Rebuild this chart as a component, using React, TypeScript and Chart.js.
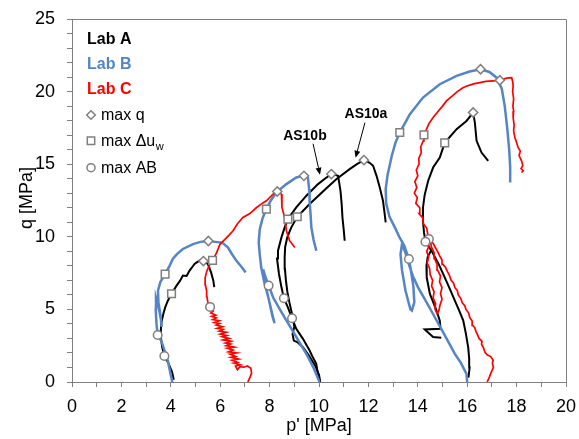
import React, { useEffect, useRef } from "react";
import { Chart, registerables } from "chart.js";

Chart.register(...registerables);

type Pt = [number, number];

// ---- Stress paths, [p' (MPa), q (MPa)] ----
// Lab A
const labA_p4: Pt[] = [[4.12,0.15],[4.05,0.7],[3.9,1.3],[3.74,1.79],[3.65,2.4],[3.6,3.05],[3.6,3.7],[3.63,4.2],[3.7,4.7],[3.77,5.12],[3.88,5.6],[4.03,6.08],[4.22,6.6],[4.37,6.96],[4.49,7.33],[4.64,7.3],[4.76,7.67],[4.85,7.87],[4.96,8.13],[5.16,8.36],[5.32,8.33],[5.5,8.13],[5.63,7.55],[5.72,7.0],[5.76,6.54]];
const labA_AS10a: Pt[] = [[10.05,0],[10.0,0.5],[9.85,1.1],[9.6,1.8],[9.35,2.4],[9.12,2.75],[8.98,2.85],[8.93,3.3],[9.0,3.8],[8.96,4.3],[8.88,4.9],[8.8,5.5],[8.72,6.2],[8.66,7.0],[8.62,7.8],[8.61,8.6],[8.63,9.3],[8.72,10.0],[8.88,10.65],[9.12,11.38],[9.62,12.26],[10.3,13.35],[10.7,13.97],[11.24,14.66],[11.55,15.02],[11.82,15.28],[12.05,15.1],[12.19,14.89],[12.33,14.2],[12.46,13.4],[12.59,12.48],[12.65,11.7],[12.7,10.99]];
const labA_AS10b: Pt[] = [[10.03,0],[9.95,0.6],[9.89,1.25],[9.75,1.7],[9.62,2.17],[9.35,2.97],[9.08,3.66],[8.91,4.39],[8.74,5.14],[8.58,5.77],[8.48,6.52],[8.38,7.44],[8.3,8.5],[8.34,9.04],[8.48,9.96],[8.6,10.6],[8.74,11.22],[9.08,12.02],[9.49,12.83],[9.96,13.63],[10.25,14.02],[10.5,14.32],[10.68,14.25],[10.77,14.2],[10.82,13.7],[10.87,13.17],[10.92,12.2],[10.95,11.33],[11.0,10.5],[11.04,9.73]];
const labA_p16: Pt[] = [[16.05,0.3],[16.1,1.0],[16.08,1.6],[16.04,2.39],[15.95,3.3],[15.84,4.23],[15.68,4.9],[15.5,5.6],[15.3,6.4],[15.09,7.21],[14.85,8.1],[14.6,8.9],[14.42,9.4],[14.31,9.66],[14.25,10.3],[14.21,11.1],[14.21,12.02],[14.28,12.9],[14.42,13.86],[14.62,14.77],[14.89,15.46],[15.09,16.47],[15.57,17.41],[15.97,17.98],[16.24,18.56],[16.31,17.87],[16.38,16.61],[16.58,15.8],[16.85,15.23]];
const labA_p16cycle: Pt[] = [[14.55,9.1],[14.4,8.6],[14.35,8.0],[14.36,7.21],[14.49,6.07],[14.76,4.92],[14.89,4.23],[14.92,3.66],[14.28,3.62],[14.62,3.1],[14.95,3.05]];

// Lab B
const labB_p4: Pt[] = [[4.06,0],[3.97,0.7],[3.88,1.48],[3.72,2.3],[3.61,2.85],[3.47,3.24],[3.42,4.0],[3.39,5.0],[3.4,5.8],[3.5,5.2],[3.6,4.3],[3.63,3.8],[3.58,4.6],[3.5,5.5],[3.48,6.29],[3.58,6.9],[3.77,7.43],[3.95,8.0],[4.08,8.47],[4.24,8.79],[4.49,9.16],[4.9,9.5],[5.2,9.65],[5.52,9.71],[5.8,9.65],[6.08,9.6],[6.31,9.27],[6.48,8.8],[6.65,8.36],[6.85,7.95],[7.03,7.55]];
const labB_p10: Pt[] = [[10.02,0],[9.8,0.9],[9.5,1.9],[9.15,2.9],[8.8,3.9],[8.45,4.9],[8.15,5.8],[7.96,6.64],[7.82,7.3],[7.74,7.75],[7.8,6.9],[7.98,5.6],[8.12,4.5],[8.2,4.05],[8.12,4.6],[7.95,5.8],[7.78,6.9],[7.66,7.9],[7.6,8.8],[7.56,9.6],[7.6,10.5],[7.72,11.3],[7.87,11.91],[8.05,12.5],[8.27,13.05],[8.68,13.63],[9.08,14.09],[9.39,14.2],[9.55,14.09],[9.6,13.3],[9.62,12.48],[9.66,11.5],[9.69,10.65],[9.78,9.8],[9.89,9.04]];
const labB_p16: Pt[] = [[16.0,0],[15.97,0.56],[15.75,1.3],[15.5,1.94],[15.1,3.2],[14.69,4.46],[14.35,5.5],[14.01,6.52],[13.8,7.3],[13.64,8.1],[13.5,8.9],[13.36,9.5],[13.3,8.8],[13.36,7.7],[13.5,6.3],[13.7,5.0],[13.76,4.92],[13.86,5.5],[13.82,6.6],[13.72,7.7],[13.64,8.47],[13.45,9.4],[13.25,10.0],[13.07,10.65],[12.85,11.4],[12.72,12.3],[12.7,13.3],[12.78,14.3],[12.95,15.6],[13.1,16.5],[13.27,17.18],[13.68,18.45],[14.21,19.59],[14.89,20.51],[15.57,21.08],[16.1,21.38],[16.54,21.54],[16.9,21.35],[17.19,20.96],[17.4,20.2],[17.52,19.0],[17.62,17.5],[17.7,16.0],[17.74,14.8],[17.74,13.74]];

// Lab C (noisy records)
const labC_p7: Pt[] = [[7.12,0],[7.2,0.3],[7.27,0.6],[7.24,0.95],[7.1,1.1],[6.95,1.02],[6.8,1.05],[6.7,0.85],[6.62,1.1],[6.82,1.18],[6.55,1.3],[6.7,1.36],[6.48,1.5],[6.74,1.58],[6.44,1.7],[6.62,1.76],[6.4,1.92],[6.66,2.0],[6.34,2.08],[6.52,2.2],[6.28,2.32],[6.56,2.4],[6.24,2.5],[6.42,2.62],[6.22,2.68],[6.44,2.8],[6.12,2.9],[6.36,3.0],[6.08,3.12],[6.26,3.2],[6.0,3.3],[6.24,3.42],[5.96,3.5],[6.12,3.62],[5.88,3.7],[6.1,3.8],[5.84,3.92],[5.98,4.02],[5.76,4.1],[5.96,4.22],[5.7,4.3],[5.84,4.42],[5.66,4.52],[5.82,4.6],[5.62,4.75],[5.72,4.9],[5.59,5.17],[5.5,5.5],[5.46,5.9],[5.45,6.27],[5.4,6.7],[5.39,7.18],[5.45,7.6],[5.55,8.0],[5.69,8.38],[5.85,8.9],[5.99,9.48],[6.18,9.8],[6.35,10.1],[6.52,10.42],[6.7,10.9],[6.92,11.33],[7.2,11.6],[7.46,12.0],[7.7,12.3],[7.87,12.48],[8.14,12.94],[8.31,13.12],[8.48,12.94],[8.5,12.02],[8.61,11.33],[8.68,10.42],[8.81,9.73],[9.02,9.27]];
const labC_p17: Pt[] = [[16.81,0],[16.9,0.35],[16.98,0.7],[17.06,1.0],[17.02,1.3],[17.05,1.5],[16.95,1.75],[16.82,1.85],[16.72,2.05],[16.66,2.35],[16.58,2.6],[16.6,2.8],[16.48,3.0],[16.42,3.25],[16.35,3.5],[16.3,3.75],[16.22,3.9],[16.2,4.2],[16.1,4.45],[16.06,4.75],[15.95,5.0],[15.9,5.25],[15.8,5.45],[15.74,5.75],[15.64,6.0],[15.6,6.3],[15.5,6.5],[15.45,6.8],[15.35,7.0],[15.28,7.35],[15.2,7.6],[15.12,7.9],[15.02,8.1],[14.98,8.4],[14.88,8.7],[14.8,9.0],[14.7,9.3],[14.62,9.55],[14.45,9.85],[14.42,9.6],[14.45,9.3],[14.36,9.0],[14.44,8.6],[14.38,8.2],[14.48,7.8],[14.5,7.4],[14.6,7.0],[14.56,6.6],[14.66,6.2],[14.62,5.8],[14.72,5.4],[14.7,5.0],[14.78,4.7],[14.85,4.9],[14.9,5.3],[14.98,5.7],[14.92,6.1],[14.98,6.5],[14.88,6.9],[14.92,7.3],[14.8,7.7],[14.78,8.1],[14.68,8.5],[14.66,8.9],[14.55,9.3],[14.5,9.8],[14.4,10.2],[14.36,10.6],[14.22,10.9],[14.2,11.3],[14.05,11.6],[14.08,12.0],[13.92,12.3],[13.98,12.7],[13.86,13.0],[13.96,13.4],[13.88,13.8],[14.0,14.2],[13.94,14.6],[14.05,15.0],[14.04,15.4],[14.14,15.8],[14.12,16.2],[14.22,16.6],[14.25,17.02],[14.35,17.4],[14.45,17.8],[14.62,18.21],[14.8,18.6],[15.0,19.0],[15.16,19.36],[15.4,19.7],[15.6,20.0],[15.84,20.28],[16.1,20.45],[16.3,20.55],[16.51,20.62],[16.75,20.7],[17.05,20.74],[17.32,20.78],[17.5,20.88],[17.65,20.95],[17.8,20.96],[17.84,20.7],[17.86,20.39],[17.84,20.0],[17.88,19.5],[17.85,19.0],[17.88,18.67],[17.86,18.2],[17.9,17.7],[17.88,17.3],[17.93,16.84],[18.0,16.5],[18.06,16.15],[18.15,15.9],[18.1,15.6],[18.2,15.23],[18.25,14.9],[18.18,14.7],[18.27,14.55],[18.2,14.43]];

// Characteristic points
const maxQPoints: Pt[] = [[5.32,8.33],[5.52,9.71],[8.31,13.12],[10.5,14.32],[11.82,15.28],[9.39,14.2],[16.24,18.56],[16.54,21.54],[17.32,20.78]];
const maxDuPoints: Pt[] = [[4.03,6.08],[3.77,7.43],[5.69,8.38],[8.74,11.22],[9.12,11.38],[7.87,11.91],[15.09,16.47],[13.27,17.18],[14.25,17.02]];
const maxABPoints: Pt[] = [[3.74,1.79],[3.47,3.24],[5.59,5.17],[8.58,5.77],[8.91,4.39],[7.96,6.64],[14.45,9.85],[14.31,9.66],[13.64,8.47]];

// Callouts: label anchor, arrow tail, arrow head (data units)
const callouts = [
  { text: "AS10a", label: [11.9, 18.48] as Pt, tail: [11.86, 17.86] as Pt, head: [11.48, 15.45] as Pt },
  { text: "AS10b", label: [9.43, 16.96] as Pt, tail: [9.76, 16.41] as Pt, head: [10.04, 14.28] as Pt },
];

const FONT = '"Liberation Sans", Arial, Helvetica, sans-serif';
const BLACK = "#000000";
const BLUE = "#5585C6";
const RED = "#FF0000";
const AXIS = "#808080";
const MARK = "#7F7F7F";

const toXY = (pts: Pt[]) => pts.map(([x, y]) => ({ x, y }));

function line(pts: Pt[], color: string, width: number) {
  return {
    data: toXY(pts),
    showLine: true,
    borderColor: color,
    backgroundColor: color,
    borderWidth: width,
    pointRadius: 0,
    pointHoverRadius: 0,
    tension: 0,
    fill: false,
    order: 2,
  };
}

function markers(pts: Pt[], style: string, radius: number) {
  return {
    data: toXY(pts),
    showLine: false,
    pointStyle: style,
    pointRadius: radius,
    pointHoverRadius: radius,
    pointBorderColor: MARK,
    pointBackgroundColor: "#FFFFFF",
    pointBorderWidth: 1.5,
    order: 0,
  };
}

const decor = {
  id: "decor",
  afterDraw(chart: any) {
    const { ctx, chartArea: a, scales } = chart;
    const xs = scales.x;
    const ys = scales.y;
    const px = (p: Pt) => [xs.getPixelForValue(p[0]), ys.getPixelForValue(p[1])];
    ctx.save();

    // top and right frame lines
    ctx.strokeStyle = AXIS;
    ctx.lineWidth = 1;
    ctx.beginPath();
    ctx.moveTo(a.left, Math.round(a.top) + 0.5);
    ctx.lineTo(Math.round(a.right) + 0.5, Math.round(a.top) + 0.5);
    ctx.lineTo(Math.round(a.right) + 0.5, a.bottom);
    ctx.stroke();

    // axis titles
    ctx.fillStyle = "#000";
    ctx.font = `18px ${FONT}`;
    ctx.textAlign = "center";
    ctx.textBaseline = "middle";
    ctx.fillText("p' [MPa]", (a.left + a.right) / 2, 426);
    ctx.save();
    ctx.translate(27.5, 198);
    ctx.rotate(-Math.PI / 2);
    ctx.fillText("q [MPa]", 0, 0);
    ctx.restore();

    // callouts
    ctx.font = `bold 14px ${FONT}`;
    for (const c of callouts) {
      const [lx, ly] = px(c.label);
      ctx.fillStyle = "#000";
      ctx.textAlign = "center";
      ctx.textBaseline = "middle";
      ctx.fillText(c.text, lx, ly);
      const [tx, ty] = px(c.tail);
      const [hx, hy] = px(c.head);
      const ang = Math.atan2(hy - ty, hx - tx);
      const L = 7, W = 3;
      const bx = hx - L * Math.cos(ang), by = hy - L * Math.sin(ang);
      ctx.strokeStyle = "#000";
      ctx.lineWidth = 1;
      ctx.beginPath();
      ctx.moveTo(tx, ty);
      ctx.lineTo(bx, by);
      ctx.stroke();
      ctx.beginPath();
      ctx.moveTo(hx, hy);
      ctx.lineTo(bx + W * Math.sin(ang), by - W * Math.cos(ang));
      ctx.lineTo(bx - W * Math.sin(ang), by + W * Math.cos(ang));
      ctx.closePath();
      ctx.fill();
    }

    // legend
    ctx.textAlign = "left";
    ctx.textBaseline = "alphabetic";
    ctx.font = `bold 16px ${FONT}`;
    ctx.fillStyle = BLACK;
    ctx.fillText("Lab A", 87, 43.5);
    ctx.fillStyle = BLUE;
    ctx.fillText("Lab B", 87, 68.5);
    ctx.fillStyle = RED;
    ctx.fillText("Lab C", 87, 93.5);

    ctx.strokeStyle = MARK;
    ctx.fillStyle = "#fff";
    ctx.lineWidth = 1.5;
    const mx = 91;
    // diamond
    ctx.beginPath();
    ctx.moveTo(mx - 4.3, 115);
    ctx.lineTo(mx, 110.7);
    ctx.lineTo(mx + 4.3, 115);
    ctx.lineTo(mx, 119.3);
    ctx.closePath();
    ctx.fill();
    ctx.stroke();
    // square
    ctx.beginPath();
    ctx.rect(mx - 3.7, 140.7 - 3.7, 7.4, 7.4);
    ctx.fill();
    ctx.stroke();
    // circle
    ctx.beginPath();
    ctx.arc(mx, 167.7, 4, 0, Math.PI * 2);
    ctx.fill();
    ctx.stroke();

    ctx.fillStyle = "#000";
    ctx.font = `16px ${FONT}`;
    ctx.fillText("max q", 101, 120);
    ctx.fillText("max \u0394u", 101, 146);
    const w = ctx.measureText("max \u0394u").width;
    ctx.font = `11px ${FONT}`;
    ctx.fillText("w", 101 + w + 0.5, 149.5);
    ctx.font = `16px ${FONT}`;
    ctx.fillText("max AB", 101, 173);

    ctx.restore();
  },
};

export default function App() {
  const ref = useRef<HTMLCanvasElement | null>(null);

  useEffect(() => {
    if (!ref.current) return;
    const tickFont = { family: FONT, size: 18 };
    const chart = new Chart(ref.current, {
      type: "scatter",
      data: {
        datasets: [
          markers(maxQPoints, "rectRot", 4.6),
          markers(maxDuPoints, "rect", 5.4),
          markers(maxABPoints, "circle", 4.3),
          line(labC_p7, RED, 1.7),
          line(labC_p17, RED, 1.7),
          line(labB_p4, BLUE, 2.5),
          line(labB_p10, BLUE, 2.5),
          line(labB_p16, BLUE, 2.5),
          line(labA_p4, BLACK, 2),
          line(labA_AS10a, BLACK, 2),
          line(labA_AS10b, BLACK, 2),
          line(labA_p16, BLACK, 2),
          line(labA_p16cycle, BLACK, 2),
        ] as any,
      },
      options: {
        responsive: false,
        animation: false,
        devicePixelRatio: 1,
        events: [],
        layout: { padding: { top: 19, right: 13, left: 0, bottom: 0 } },
        plugins: { legend: { display: false }, tooltip: { enabled: false }, title: { display: false } },
        scales: {
          x: {
            type: "linear",
            min: 0,
            max: 20,
            afterFit: (s: any) => {
              s.height = 57;
              s.paddingLeft = 0;
              s.paddingRight = 0;
            },
            ticks: {
              stepSize: 1,
              autoSkip: false,
              maxRotation: 0,
              color: "#000",
              font: tickFont,
              padding: 9,
              callback: (v: any) => (Number(v) % 2 === 0 ? String(v) : ""),
            },
            grid: { drawOnChartArea: false, drawTicks: true, tickLength: 5, color: AXIS },
            border: { color: AXIS, width: 1 },
          },
          y: {
            type: "linear",
            min: 0,
            max: 25,
            afterFit: (s: any) => {
              s.width = 72;
              s.paddingTop = 0;
              s.paddingBottom = 0;
            },
            ticks: {
              stepSize: 1,
              autoSkip: false,
              color: "#000",
              font: tickFont,
              padding: 12,
              callback: (v: any) => (Number(v) % 5 === 0 ? String(v) : ""),
            },
            grid: { drawOnChartArea: false, drawTicks: true, tickLength: 5, color: AXIS },
            border: { color: AXIS, width: 1 },
          },
        },
      } as any,
      plugins: [decor],
    });
    return () => chart.destroy();
  }, []);

  return (
    <div style={{ position: "fixed", left: 0, top: 0, width: 579, height: 439, background: "#fff" }}>
      <canvas ref={ref} width={579} height={439} style={{ display: "block" }} />
    </div>
  );
}
